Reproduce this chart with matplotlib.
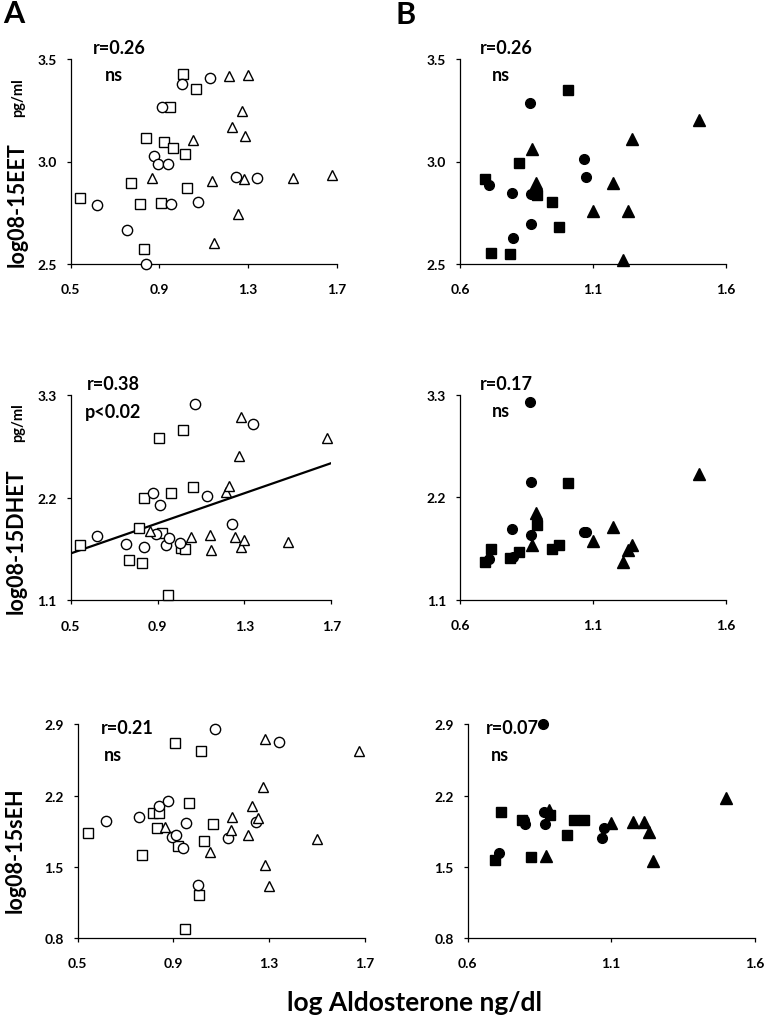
import numpy as np
import matplotlib.pyplot as plt

plt.rcParams['font.family'] = ['Lato', 'DejaVu Sans']
plt.rcParams['font.weight'] = 'bold'

# ---- column A (open markers); x = log aldosterone, same patients in every row
a_circle_x = [0.62, 0.756, 0.839, 0.877, 0.893, 0.913, 0.941, 0.951, 1.004, 1.074, 1.129, 1.245, 1.34]
a_square_x = [0.542, 0.77, 0.814, 0.83, 0.839, 0.907, 0.919, 0.947, 0.964, 1.006, 1.015, 1.027, 1.065]
a_triangle_x = [0.866, 1.052, 1.14, 1.147, 1.213, 1.227, 1.255, 1.273, 1.283, 1.285, 1.3, 1.502, 1.678]

a_eet_circle = [2.786, 2.663, 2.5, 3.026, 2.989, 3.266, 2.989, 2.792, 3.379, 2.802, 3.407, 2.926, 2.917]
a_eet_square = [2.819, 2.895, 2.792, 2.57, 3.116, 2.796, 3.096, 3.266, 3.064, 3.43, 3.036, 2.869, 3.353]
a_eet_triangle = [2.92, 3.106, 2.905, 2.6, 3.42, 3.168, 2.742, 3.248, 2.915, 3.126, 3.423, 2.92, 2.935]

a_dhet_circle = [1.793, 1.704, 1.668, 2.246, 1.811, 2.121, 1.696, 1.768, 1.714, 3.2, 2.221, 1.921, 2.986]
a_dhet_square = [1.689, 1.529, 1.875, 1.496, 2.193, 2.843, 1.821, 1.157, 2.254, 1.664, 2.929, 1.65, 2.314]
a_dhet_triangle = [1.843, 1.782, 1.804, 1.643, 2.257, 2.329, 1.782, 2.643, 3.061, 1.671, 1.746, 1.721, 2.839]

a_seh_circle = [1.954, 1.987, 2.102, 2.151, 1.79, 1.816, 1.682, 1.931, 1.325, 2.85, 1.787, 1.944, 2.73]
a_seh_square = [1.833, 1.616, 2.03, 1.885, 2.03, 2.72, 1.702, 0.888, 2.125, 1.226, 2.633, 1.751, 1.918]
a_seh_triangle = [1.889, 1.649, 1.866, 1.987, 1.816, 2.102, 1.977, 2.282, 2.76, 1.518, 1.315, 1.774, 2.64]

# ---- column B (filled markers)
b_circle_x = [0.708, 0.796, 0.801, 0.862, 0.866, 0.868, 1.067, 1.074]
b_square_x = [0.695, 0.717, 0.788, 0.822, 0.888, 0.946, 0.972, 1.006]
b_triangle_x = [0.872, 0.885, 1.1, 1.176, 1.215, 1.232, 1.246, 1.5]

b_eet_circle = [2.887, 2.845, 2.624, 3.286, 2.842, 2.693, 3.011, 2.922]
b_eet_square = [2.913, 2.551, 2.546, 2.995, 2.837, 2.804, 2.68, 3.35]
b_eet_triangle = [3.06, 2.897, 2.757, 2.897, 2.518, 2.76, 3.108, 3.204]

b_dhet_circle = [1.537, 1.859, 1.56, 3.221, 2.368, 1.798, 1.823, 1.83]
b_dhet_square = [1.501, 1.644, 1.547, 1.608, 1.906, 1.644, 1.691, 2.354]
b_dhet_triangle = [1.688, 2.031, 1.734, 1.877, 1.508, 1.637, 1.688, 2.454]

b_seh_circle = [1.633, 1.961, 1.921, 2.9, 2.036, 1.921, 1.78, 1.879]
b_seh_square = [1.57, 2.036, 1.961, 1.593, 2.01, 1.813, 1.964, 1.964]
b_seh_triangle = [1.603, 2.062, 1.931, 1.944, 1.944, 1.846, 1.561, 2.177]

a_xticks = [0.5, 0.9, 1.3, 1.7]
b_xticks = [0.6, 1.1, 1.6]
eet_yticks = [2.5, 3.0, 3.5]
dhet_yticks = [1.1, 2.2, 3.3]
seh_yticks = [0.8, 1.5, 2.2, 2.9]

W, H = 764, 1020
fig = plt.figure(figsize=(W / 100, H / 100), dpi=100)


def box(l, r, t, b):
    # pixel box -> figure fraction
    return [l / W, 1 - b / H, (r - l) / W, (b - t) / H]


def panel(rect, xticks, yticks, groups, filled, r_txt, p_txt, rpos, ppos):
    ax = fig.add_axes(rect)
    for xs, ys, mk, ms in groups:
        ax.plot(xs, ys, linestyle='none', marker=mk, ms=ms, mew=1.0,
                mec='black', mfc='black' if filled else 'white', clip_on=False, zorder=3)
    ax.set_xlim(xticks[0], xticks[-1])
    ax.set_ylim(yticks[0], yticks[-1])
    ax.set_xticks(xticks)
    ax.set_yticks(yticks)
    ax.set_xticklabels(['%.1f' % v for v in xticks])
    ax.set_yticklabels(['%.1f' % v for v in yticks])
    for s in ['top', 'right']:
        ax.spines[s].set_visible(False)
    for s in ['left', 'bottom']:
        ax.spines[s].set_linewidth(0.9)
    ax.tick_params(direction='out', length=3, width=0.9, labelsize=10)
    ax.tick_params(axis='x', pad=11)
    ax.tick_params(axis='y', pad=7)
    ax.text(rpos[0], rpos[1], r_txt, transform=ax.transAxes, fontsize=13,
            fontweight='bold', ha='left', va='center')
    ax.text(ppos[0], ppos[1], p_txt, transform=ax.transAxes, fontsize=13,
            fontweight='bold', ha='left', va='center')
    return ax


def grp(cx, cy, sx, sy, tx, ty, filled):
    if filled:
        return [(sx, sy, 's', 7.6), (cx, cy, 'o', 7.0), (tx, ty, '^', 8.0)]
    return [(sx, sy, 's', 7.2), (cx, cy, 'o', 7.4), (tx, ty, '^', 7.6)]


panel(box(70.7, 336.5, 60.3, 264.7), a_xticks, eet_yticks,
      grp(a_circle_x, a_eet_circle, a_square_x, a_eet_square, a_triangle_x, a_eet_triangle, False),
      False, 'r=0.26', 'ns', (0.084, 1.06), (0.129, 0.928))
panel(box(460, 725.7, 60.3, 264.7), b_xticks, eet_yticks,
      grp(b_circle_x, b_eet_circle, b_square_x, b_eet_square, b_triangle_x, b_eet_triangle, True),
      True, 'r=0.26', 'ns', (0.075, 1.06), (0.119, 0.928))

ax_dhet = panel(box(70.7, 331.3, 396, 601.3), a_xticks, dhet_yticks,
                grp(a_circle_x, a_dhet_circle, a_square_x, a_dhet_square, a_triangle_x, a_dhet_triangle, False),
                False, 'r=0.38', 'p<0.02', (0.063, 1.054), (0.055, 0.922))
# linear trend over all column-A points
all_x = np.array(a_circle_x + a_square_x + a_triangle_x)
all_y = np.array(a_dhet_circle + a_dhet_square + a_dhet_triangle)
slope, icpt = np.polyfit(all_x, all_y, 1)
fx = np.array([a_xticks[0], a_xticks[-1]])
ax_dhet.plot(fx, slope * fx + icpt, color='black', lw=1.6, zorder=2)

panel(box(460, 725.7, 396, 600.7), b_xticks, dhet_yticks,
      grp(b_circle_x, b_dhet_circle, b_square_x, b_dhet_square, b_triangle_x, b_dhet_triangle, True),
      True, 'r=0.17', 'ns', (0.075, 1.054), (0.119, 0.922))

panel(box(77.7, 364.7, 725.3, 939), a_xticks, seh_yticks,
      grp(a_circle_x, a_seh_circle, a_square_x, a_seh_square, a_triangle_x, a_seh_triangle, False),
      False, 'r=0.21', 'ns', (0.082, 0.987), (0.092, 0.861))
panel(box(467.7, 754.7, 725.3, 939), b_xticks, seh_yticks,
      grp(b_circle_x, b_seh_circle, b_square_x, b_seh_square, b_triangle_x, b_seh_triangle, True),
      True, 'r=0.07', 'ns', (0.064, 0.987), (0.081, 0.861))

# y axis titles
fig.text(17 / W, 1 - 205 / H, 'log08-15EET', rotation=90, fontsize=15.5, fontweight='bold', ha='center', va='center')
fig.text(18 / W, 1 - 98 / H, 'pg/ml', rotation=90, fontsize=10.5, fontweight='bold', ha='center', va='center')
fig.text(16 / W, 1 - 541 / H, 'log08-15DHET', rotation=90, fontsize=15.5, fontweight='bold', ha='center', va='center')
fig.text(18 / W, 1 - 423 / H, 'pg/ml', rotation=90, fontsize=10.5, fontweight='bold', ha='center', va='center')
fig.text(15 / W, 1 - 850 / H, 'log08-15sEH', rotation=90, fontsize=15.5, fontweight='bold', ha='center', va='center')

fig.text(414 / W, 1 - 1003 / H, 'log Aldosterone ng/dl', fontsize=19, fontweight='bold', ha='center', va='center')

fig.text(14 / W, 1 - 14 / H, 'A', fontsize=22, fontweight='bold', ha='center', va='center')
fig.text(406 / W, 1 - 15 / H, 'B', fontsize=22, fontweight='bold', ha='center', va='center')

fig.savefig('out.png', dpi=100)
